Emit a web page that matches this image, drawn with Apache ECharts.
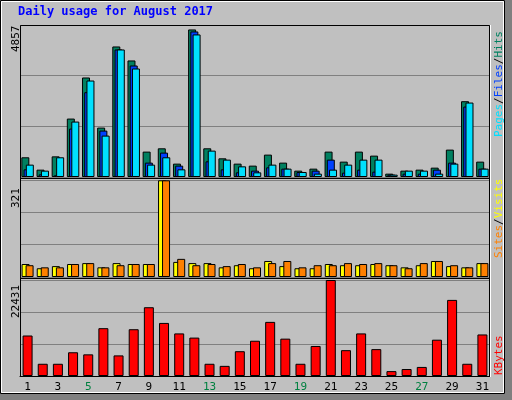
<!DOCTYPE html>
<html><head><meta charset="utf-8">
<script src="https://cdn.jsdelivr.net/npm/echarts@6/dist/echarts.min.js"></script>
<style>html,body{margin:0;padding:0;background:#c0c0c0}#c{width:512px;height:400px}</style>
</head><body><div id="c"></div>
<script>
const days = Array.from({length:31},(_,i)=>String(i+1));
const weekends = ['5','6','12','13','19','20','26','27'];
const hits  = [630,235,660,1867,3180,1579,4171,3724,811,917,427,4715,917,597,427,363,715,459,203,267,811,491,811,683,107,203,235,299,875,2422,491];
const files = [245,85,55,1547,2710,1483,4075,3563,459,779,363,4651,501,245,149,203,309,267,160,203,555,139,235,171,75,107,107,235,459,2251,267];
const pages = [395,203,630,1771,3083,1323,4075,3467,395,630,245,4555,843,555,341,149,395,267,160,107,235,395,555,555,75,203,203,107,427,2379,267];
const visits= [43,29,36,43,46,32,46,43,43,320,50,46,46,32,39,29,53,36,29,29,43,39,39,43,39,32,39,53,36,32,46];
const sites = [39,32,32,43,46,32,39,43,43,320,60,39,43,36,43,32,46,53,32,39,39,46,43,46,39,29,46,53,39,32,46];
const kbytes= [9462,2855,2855,5547,5057,11175,4813,10930,16069,12399,9951,8973,2855,2366,5791,8239,12643,8728,2855,7015,22431,6036,9951,6281,1142,1631,2121,8483,17782,2855,9707];
const maxLabels = ['4857','321','22431'];
const maxVals = [4857,321,22431];

const font = 'DejaVu Sans Mono';
const grids = [
  {left:20,right:22,top:25,height:152},
  {left:20,right:22,top:180,height:97},
  {left:20,right:22,top:280,height:96}
];
const xAxis = grids.map((g,i)=>({type:'category',gridIndex:i,data:days,
  axisLine:{show:i===2,lineStyle:{color:'#000'}},axisTick:{show:false},
  axisLabel:{show:i===2,margin:6,fontFamily:font,fontSize:11,
    color:(v)=>weekends.includes(v)?'#008040':'#000'}}));
const yAxis = grids.map((g,i)=>({type:'value',gridIndex:i,min:0,max:maxVals[i],interval:maxVals[i]/3,
  axisLabel:{show:false},axisLine:{show:false},axisTick:{show:false},
  splitLine:{lineStyle:{color:'#808080',width:1}}}));
const bs = {borderColor:'#000',borderWidth:1};
const series = [
  {type:'bar',xAxisIndex:0,yAxisIndex:0,data:hits,barWidth:8,barGap:'-72%',itemStyle:{...bs,color:'#008060'}},
  {type:'bar',xAxisIndex:0,yAxisIndex:0,data:files,barWidth:8,barGap:'-72%',itemStyle:{...bs,color:'#0040ff'}},
  {type:'bar',xAxisIndex:0,yAxisIndex:0,data:pages,barWidth:8,barGap:'-72%',itemStyle:{...bs,color:'#00e0ff'}},
  {type:'bar',xAxisIndex:1,yAxisIndex:1,data:visits,barWidth:8,barGap:'-50%',itemStyle:{...bs,color:'#ffff00'}},
  {type:'bar',xAxisIndex:1,yAxisIndex:1,data:sites,barWidth:8,barGap:'-50%',itemStyle:{...bs,color:'#ff8000'}},
  {type:'bar',xAxisIndex:2,yAxisIndex:2,data:kbytes,barWidth:10,itemStyle:{...bs,color:'#ff0000'}}
];
const sideText = (x,y,rich,text)=>({type:'text',x:x,y:y,rotation:Math.PI/2,
  style:{text:text,rich:rich,fontFamily:font,fontSize:11,align:'left',verticalAlign:'middle'}});
const graphic = [
  {type:'rect',shape:{x:0.5,y:0.5,width:504,height:393},style:{fill:'none',stroke:'#000',lineWidth:1}},
  {type:'rect',shape:{x:505,y:0,width:7,height:400},style:{fill:'#808080'}},
  {type:'rect',shape:{x:0,y:394,width:512,height:6},style:{fill:'#808080'}},
  {type:'rect',shape:{x:1.5,y:1.5,width:502,height:391},style:{fill:'none',stroke:'#ffffff',lineWidth:1}},
  {type:'rect',shape:{x:20.5,y:25.5,width:469,height:351},style:{fill:'none',stroke:'#000',lineWidth:1},z:10},
  {type:'line',shape:{x1:20,y1:178.5,x2:490,y2:178.5},style:{stroke:'#000'},z:10},
  {type:'line',shape:{x1:20,y1:278.5,x2:490,y2:278.5},style:{stroke:'#000'},z:10},
  {type:'line',shape:{x1:490.5,y1:25,x2:490.5,y2:377},style:{stroke:'#fff'},z:10},
  {type:'text',x:18,y:6,style:{text:'Daily usage for August 2017',fontFamily:font,fontSize:12,fontWeight:'bold',fill:'#0000ff'}},
  {type:'text',x:16,y:52,rotation:Math.PI/2,style:{text:maxLabels[0],fontFamily:font,fontSize:11,fill:'#000',align:'left',verticalAlign:'middle'}},
  {type:'text',x:16,y:208,rotation:Math.PI/2,style:{text:maxLabels[1],fontFamily:font,fontSize:11,fill:'#000',align:'left',verticalAlign:'middle'}},
  {type:'text',x:16,y:318,rotation:Math.PI/2,style:{text:maxLabels[2],fontFamily:font,fontSize:11,fill:'#000',align:'left',verticalAlign:'middle'}},
  sideText(499,137,{p:{fill:'#00e0ff'},s:{fill:'#000'},f:{fill:'#0040ff'},h:{fill:'#008060'}},'{p|Pages}{s|/}{f|Files}{s|/}{h|Hits}'),
  sideText(499,258,{a:{fill:'#ff8000'},s:{fill:'#000'},b:{fill:'#ffff00'}},'{a|Sites}{s|/}{b|Visits}'),
  sideText(499,375,{k:{fill:'#ff0000'}},'{k|KBytes}')
];
const chart = echarts.init(document.getElementById('c'));
chart.setOption({animation:false,backgroundColor:'#c0c0c0',grid:grids,xAxis,yAxis,series,graphic});
</script></body></html>
